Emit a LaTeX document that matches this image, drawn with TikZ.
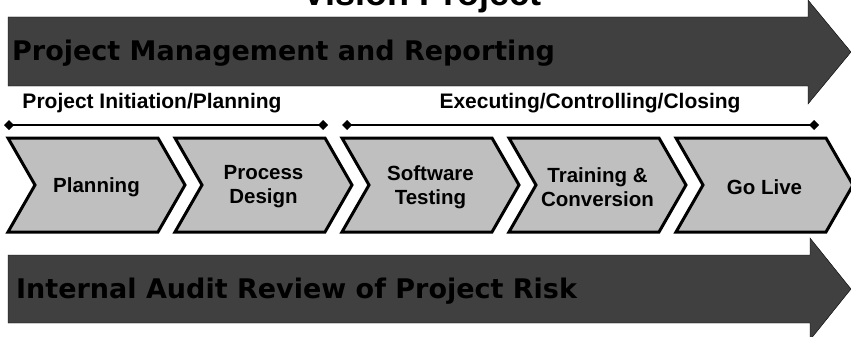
\documentclass[tikz,border=0pt]{standalone}
\usepackage{fontspec}
\setmainfont{Liberation Sans}
\newfontfamily\bandfont{DejaVu Sans}
\usetikzlibrary{arrows.meta}
\definecolor{banddark}{gray}{0.25}
\definecolor{chevgray}{gray}{0.75}
\begin{document}
\begin{tikzpicture}[x=1pt,y=-1pt,
  band/.style={fill=banddark},
  bandtext/.style={anchor=west,inner sep=0pt,font=\bandfont\bfseries\fontsize{27}{30}\selectfont},
  chev/.style={draw=black,line width=3pt,fill=chevgray,line join=miter},
  chevtext/.style={align=center,font=\bfseries\fontsize{20.5}{24}\selectfont},
  phase/.style={font=\bfseries\fontsize{21}{24}\selectfont},
  span/.style={line width=1.4pt,{Diamond[length=10pt,width=10pt]}-{Diamond[length=10pt,width=10pt]}}]
\useasboundingbox (0,0) rectangle (851,337);
% title, cut at the top edge as in the original
\node[anchor=base,font=\bfseries\fontsize{36}{40}\selectfont] (title) at (422,6) {Vision Project};
% upper band
\draw[band] (8,17) -- (808,17) -- (808,0) -- (851,52) -- (808,104) -- (808,86) -- (8,86) -- cycle;
\node[bandtext] (pmr) at (12,53) {Project Management and Reporting};
% phases
\node[phase] (init) at (152,103) {Project Initiation/Planning};
\node[phase] (exec) at (590,103) {Executing/Controlling/Closing};
\coordinate (initL) at (4,125);
\coordinate (initR) at (328,125);
\coordinate (execL) at (342,125);
\coordinate (execR) at (819,125);
\draw[span] (initL) -- (initR);
\draw[span] (execL) -- (execR);
% chevrons
\foreach \lbl [count=\i from 0] in {Planning, Process\\Design, Software\\Testing, Training \&\\Conversion, Go Live}{
  \pgfmathsetmacro\xl{8+167*\i}
  \draw[chev] (\xl,138) -- ++(150,0) -- ++(27,47) -- ++(-27,47) -- ++(-150,0) -- ++(27,-47) -- cycle;
  \node[chevtext] (phase\i) at (\xl+88.5,187) {\lbl};
}
% lower band
\draw[band] (8,255) -- (810,255) -- (810,238) -- (851,289) -- (810,340) -- (810,323) -- (8,323) -- cycle;
\node[bandtext] (audit) at (16,291) {Internal Audit Review of Project Risk};
\end{tikzpicture}
\end{document}
